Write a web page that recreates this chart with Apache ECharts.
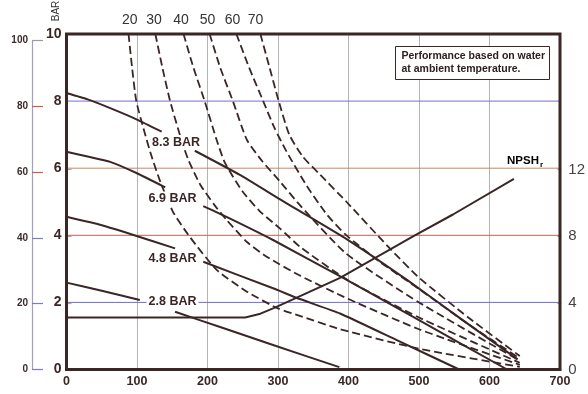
<!DOCTYPE html>
<html><head><meta charset="utf-8">
<script src="https://cdn.jsdelivr.net/npm/echarts@6/dist/echarts.min.js"></script>
<style>html,body{margin:0;padding:0;background:#fff}#c{width:588px;height:394px}</style>
</head><body><div id="c"></div>
<script>
// ---- data ----
const xTicks = [0, 100, 200, 300, 400, 500, 600, 700];
const barTicks = [0, 2, 4, 6, 8, 10];
const headTicks = [0, 20, 40, 60, 80, 100];
const npshTicks = [0, 4, 8, 12];
const airLabels = ['20', '30', '40', '50', '60', '70'];
const pressureLabels = ['8.3 BAR', '6.9 BAR', '4.8 BAR', '2.8 BAR'];
const gridBars = [2, 4, 6, 8];

// solid head curves (flow, bar), split where the label sits
const bar83a = [[0,8.24],[30,8.05],[62,7.79],[100,7.45],[135,7.09]];
const bar83b = [[182,6.52],[246,5.80],[303,5.07],[331,4.72],[400,3.85],[483,2.67],[560,1.5],[640,0.3]];
const bar69a = [[0,6.49],[30,6.35],[62,6.19],[100,5.85],[140,5.43]];
const bar69b = [[194,4.87],[227,4.55],[293,3.86],[393,2.72],[500,1.47],[625,0]];
const bar48a = [[0,4.55],[50,4.3],[95,4.01],[154,3.61]];
const bar48b = [[194,3.21],[293,2.42],[331,2.1],[388,1.67],[470,0.86],[557,0]];
const bar28a = [[0,2.59],[50,2.35],[104,2.07]];
const bar28b = [[154,1.72],[220,1.25],[293,0.73],[387,0.07]];

// dashed air consumption curves
const air20 = [[88,10],[93,9],[99,8],[109,7.2],[120,6.4],[133,5.6],[151,4.7],[175,3.95],[213,2.97],[256,2.32],[300,1.82],[331,1.6],[388,1.2],[500,0.62],[643,0.08]];
const air30 = [[126,10],[136,9],[147,8],[163,6.84],[173,6.24],[190,5.5],[210,4.9],[227,4.46],[256,3.8],[284,3.36],[331,2.8],[400,2.1],[500,1.2],[643,0.14]];
const air40 = [[166,10],[180,9],[196,8],[213,6.84],[225,6.15],[250,5.3],[275,4.7],[303,4.2],[331,3.66],[400,2.65],[500,1.55],[643,0.2]];
const air50 = [[203,10],[218,9],[236,8],[256,6.84],[278,6.2],[303,5.6],[331,4.9],[397,3.45],[500,2.0],[643,0.26]];
const air60 = [[241,10],[259,9],[279,8],[295,7.2],[312,6.5],[340,5.5],[370,4.6],[397,4.0],[445,3.2],[500,2.4],[570,1.35],[643,0.33]];
const air70 = [[275,10],[288,9],[301,8],[316,7],[335,6.35],[360,5.8],[397,5.0],[459,3.6],[501,2.72],[570,1.55],[643,0.4]];

// NPSHr (right axis)
const npsh = [[0,3.12],[258,3.12],[280,3.35],[300,3.7],[395,5.5],[501,8.0],[558,9.3],[646,11.44]];

// ---- chart ----
const INK = '#3b2626';
const FONT = "'Liberation Sans', Arial, sans-serif";
const chart = echarts.init(document.getElementById('c'), null, {renderer: 'canvas'});

function solid(d) {
  return {type: 'line', data: d, xAxisIndex: 0, yAxisIndex: 0, showSymbol: false, symbol: 'none',
    smooth: 0.15, lineStyle: {color: INK, width: 2, join: 'round'}, z: 3, silent: true};
}
function dashed(d) {
  return {type: 'line', data: d, xAxisIndex: 0, yAxisIndex: 0, showSymbol: false, symbol: 'none',
    smooth: 0.2, lineStyle: {color: INK, width: 1.8, type: [8, 4], join: 'round'}, z: 3, silent: true};
}

const gridLineColors = ['#6f6cd0', '#c2604e', '#d0845e', '#7570cc'];
const airStartPx = [129.7, 154, 181, 207.5, 232.5, 255.5];
const pressLabelPos = [[176, 142.5], [172.5, 199], [172.5, 259], [172.5, 301.5]];

const graphics = [];
airLabels.forEach((t, i) => graphics.push({type: 'text', x: airStartPx[i], y: 20.5, z: 100,
  style: {text: t, font: '14px ' + FONT, fill: '#333', textAlign: 'center', textVerticalAlign: 'middle'}}));
pressureLabels.forEach((t, i) => graphics.push({type: 'text', x: pressLabelPos[i][0], y: pressLabelPos[i][1], z: 100,
  style: {text: t, font: 'bold 12.5px ' + FONT, fill: INK, textAlign: 'center', textVerticalAlign: 'middle',
    backgroundColor: '#fff', padding: [1, 2]}}));
graphics.push({type: 'text', x: 56, y: 11, rotation: Math.PI / 2, z: 100,
  style: {text: 'BAR', font: '10px ' + FONT, fill: '#333', textAlign: 'center', textVerticalAlign: 'middle'}});
graphics.push({type: 'rect', shape: {x: 395.5, y: 46.5, width: 154, height: 33}, z: 100,
  style: {fill: '#fff', stroke: INK, lineWidth: 1}});
graphics.push({type: 'text', x: 401.5, y: 56, z: 101,
  style: {text: 'Performance based on water', font: 'bold 10.5px ' + FONT, fill: '#2e2020', textVerticalAlign: 'middle'}});
graphics.push({type: 'text', x: 401.5, y: 69.5, z: 101,
  style: {text: 'at ambient temperature.', font: 'bold 10.5px ' + FONT, fill: '#2e2020', textVerticalAlign: 'middle'}});
graphics.push({type: 'text', x: 507, y: 160.5, z: 100,
  style: {text: '{a|NPSH}{b|r}', textVerticalAlign: 'middle',
    rich: {a: {fontFamily: FONT, fontWeight: 'bold', fontSize: 11.5, color: INK},
           b: {fontFamily: FONT, fontWeight: 'bold', fontSize: 8, color: INK, padding: [8, 0, 0, 1]}}}});

const headAxisBase = {gridIndex: 1, type: 'value', position: 'left', min: 0, max: 100, interval: 20,
  splitLine: {show: false}};

const hLines = gridBars.map((v, i) => ({type: 'line', data: [[0, v], [700, v]], xAxisIndex: 0, yAxisIndex: 0,
  showSymbol: false, symbol: 'none', silent: true, z: 1,
  lineStyle: {color: gridLineColors[i], width: 1}}));

const option = {
  animation: false,
  backgroundColor: '#fff',
  grid: [
    {left: 66.5, right: 28, top: 34, bottom: 24.5, show: true, borderColor: INK, borderWidth: 3, backgroundColor: 'transparent', z: 5},
    {left: 32, width: 20, top: 40.5, bottom: 24.5},
    {left: 66.5, right: 28, top: 169.5, bottom: 24.5}
  ],
  xAxis: [
    {gridIndex: 0, type: 'value', min: 0, max: 700, interval: 100,
      axisLine: {show: false}, axisTick: {show: false},
      axisLabel: {margin: 6, fontFamily: FONT, fontWeight: 'bold', fontSize: 12.5, color: INK,
        customValues: xTicks},
      splitLine: {show: true, lineStyle: {color: '#b4b4b4', width: 1}}},
    {gridIndex: 1, type: 'value', min: 0, max: 1, show: false},
    {gridIndex: 2, type: 'value', min: 0, max: 700, show: false}
  ],
  yAxis: [
    {gridIndex: 0, type: 'value', min: 0, max: 10, interval: 2,
      axisLine: {show: false}, axisTick: {show: false},
      axisLabel: {margin: 5, fontFamily: FONT, fontWeight: 'bold', fontSize: 14, color: INK, customValues: barTicks},
      splitLine: {show: false}},
    Object.assign({}, headAxisBase, {
      axisLine: {show: true, lineStyle: {color: '#a39ec0', width: 1.2}},
      axisTick: {show: true, inside: true, length: 11, customValues: [0, 20, 40], lineStyle: {color: '#7c7cc4', width: 1.2}},
      axisLabel: {margin: 4, fontFamily: FONT, fontWeight: 'bold', fontSize: 10, color: '#3b2b2b', customValues: headTicks}}),
    Object.assign({}, headAxisBase, {
      axisLine: {show: false}, axisLabel: {show: false},
      axisTick: {show: true, inside: true, length: 11, customValues: [60, 80], lineStyle: {color: '#c4604c', width: 1.2}}}),
    Object.assign({}, headAxisBase, {
      axisLine: {show: false}, axisLabel: {show: false},
      axisTick: {show: true, inside: true, length: 11, customValues: [100], lineStyle: {color: '#9a9aa6', width: 1.2}}}),
    {gridIndex: 2, type: 'value', position: 'right', offset: 10, min: 0, max: 12, interval: 4,
      axisLine: {show: true, lineStyle: {color: '#a8a8a8', width: 1.2}},
      axisTick: {show: true, length: 5, lineStyle: {color: '#a8a8a8', width: 1.2}},
      axisLabel: {margin: 7, fontFamily: FONT, fontSize: 15, color: '#444', customValues: npshTicks},
      splitLine: {show: false}},
    {gridIndex: 2, type: 'value', position: 'right', offset: 10, min: 0, max: 12, interval: 4,
      axisLine: {show: false}, axisLabel: {show: false},
      axisTick: {show: true, inside: true, length: 4, lineStyle: {color: '#a8a8a8', width: 1.2}},
      splitLine: {show: false}}
  ],
  series: hLines.concat([
    solid(bar83a), solid(bar83b), solid(bar69a), solid(bar69b),
    solid(bar48a), solid(bar48b), solid(bar28a), solid(bar28b),
    dashed(air20), dashed(air30), dashed(air40), dashed(air50), dashed(air60), dashed(air70),
    {type: 'line', data: npsh, xAxisIndex: 2, yAxisIndex: 4, showSymbol: false, symbol: 'none',
      lineStyle: {color: INK, width: 2, join: 'round'}, z: 3, silent: true}
  ]),
  graphic: graphics
};
chart.setOption(option);
</script></body></html>
